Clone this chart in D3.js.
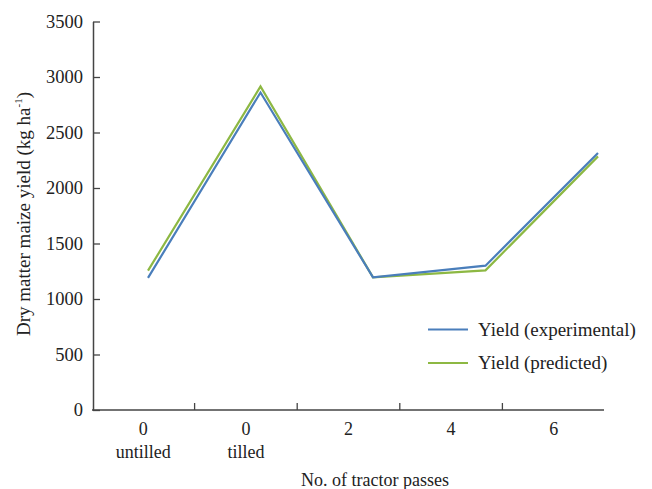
<!DOCTYPE html>
<html>
<head>
<meta charset="utf-8">
<script src="https://cdn.jsdelivr.net/npm/d3@7/dist/d3.min.js"></script>
<style>
  body { margin: 0; background: #fff; }
  text { font-family: "Liberation Serif", "Times New Roman", serif; fill: #222; }
</style>
</head>
<body>
<svg id="chart" width="652" height="489"></svg>
<script>
const categories = ["0|untilled", "0|tilled", "2", "4", "6"];
const experimental = [1190, 2860, 1195, 1300, 2315];
const predicted = [1255, 2915, 1195, 1258, 2285];
const yTicks = [0, 500, 1000, 1500, 2000, 2500, 3000, 3500];
const seriesNames = ["Yield (experimental)", "Yield (predicted)"];
const colors = ["#4a7ebb", "#8db843"];

const svg = d3.select("#chart");
const x0 = 92, x1 = 605, yTop = 21.5, yBot = 410;

const y = d3.scaleLinear().domain([0, 3500]).range([yBot, yTop]);
const xBand = d3.scaleBand().domain(categories).range([x0, x1]);
const xPt = d3.scalePoint().domain(categories).range([148, 598]);

// Y axis
const yAxis = svg.append("g").attr("transform", `translate(${x0 + 1},0)`)
  .call(d3.axisLeft(y).tickValues(yTicks).tickFormat(d3.format("d"))
    .tickSizeInner(-7).tickSizeOuter(0).tickPadding(10));
yAxis.select(".domain").attr("stroke", "#444").attr("stroke-width", 1.5);
yAxis.selectAll(".tick line").attr("stroke", "#444").attr("stroke-width", 1.3);
yAxis.selectAll("text").style("font-size", "18.5px").attr("fill", "#222");

// X axis
const xAxis = svg.append("g").attr("transform", `translate(0,${yBot})`);
xAxis.append("line").attr("x1", x0).attr("x2", x1 - 1).attr("y1", 0).attr("y2", 0)
  .attr("stroke", "#444").attr("stroke-width", 1.5);
xAxis.selectAll("line.tk").data(categories.slice(1)).enter().append("line")
  .attr("class", "tk")
  .attr("x1", d => xBand(d)).attr("x2", d => xBand(d))
  .attr("y1", 0).attr("y2", -7).attr("stroke", "#444").attr("stroke-width", 1.3);
const lbl = xAxis.selectAll("text.lbl").data(categories).enter().append("text")
  .attr("class", "lbl")
  .attr("x", d => xBand(d) + xBand.bandwidth() / 2)
  .attr("text-anchor", "middle").style("font-size", "18px");
lbl.each(function(d) {
  const parts = d.split("|");
  const t = d3.select(this);
  parts.forEach((p, i) => {
    t.append("tspan").attr("x", xBand(d) + xBand.bandwidth() / 2).attr("y", 25 + i * 23).text(p);
  });
});

// Axis titles
svg.append("text").attr("x", 375).attr("y", 486).attr("text-anchor", "middle")
  .style("font-size", "18px").text("No. of tractor passes");
const yt = svg.append("text").attr("transform", "translate(30,214) rotate(-90)")
  .attr("text-anchor", "middle").style("font-size", "19px");
yt.append("tspan").text("Dry matter maize yield (kg ha");
yt.append("tspan").attr("dy", -8).style("font-size", "11px").text("-1");
yt.append("tspan").attr("dy", 8).text(")");

// Lines
const line = d3.line().x((d, i) => xPt(categories[i])).y(d => y(d));
[[predicted, colors[1]], [experimental, colors[0]]].forEach(([data, c]) => {
  svg.append("path").datum(data).attr("d", line).attr("fill", "none")
    .attr("stroke", c).attr("stroke-width", 2.2).attr("stroke-linejoin", "miter");
});

// Legend
const leg = svg.append("g");
seriesNames.forEach((n, i) => {
  const yy = 329.5 + i * 33.5;
  leg.append("line").attr("x1", 428).attr("x2", 468).attr("y1", yy).attr("y2", yy)
    .attr("stroke", colors[i]).attr("stroke-width", 2.2);
  leg.append("text").attr("x", 478).attr("y", yy + 6).style("font-size", "19px").text(n);
});
</script>
</body>
</html>
